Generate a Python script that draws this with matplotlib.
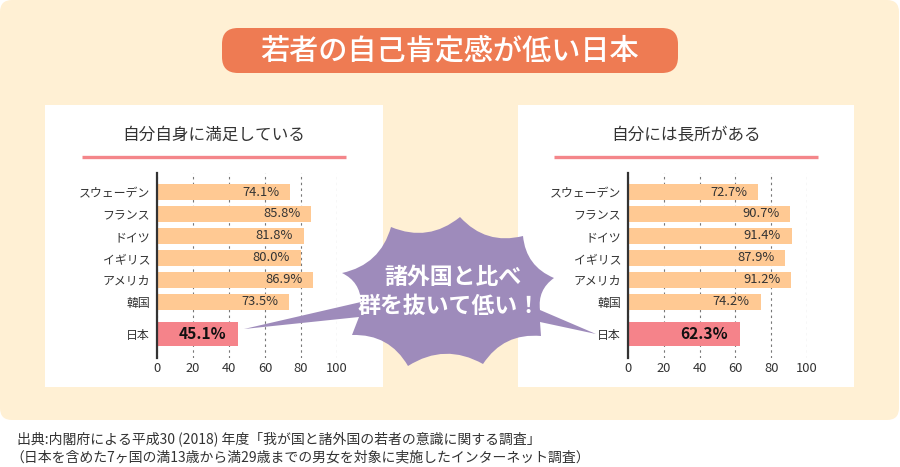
import matplotlib
matplotlib.use("Agg")
import matplotlib.pyplot as plt
from matplotlib.patches import FancyBboxPatch, Rectangle, PathPatch
from matplotlib.path import Path
import numpy as np

plt.rcParams['font.family'] = ['Noto Sans CJK JP', 'DejaVu Sans']

# ---- data ----
countries = ['スウェーデン', 'フランス', 'ドイツ', 'イギリス', 'アメリカ', '韓国', '日本']
satisfied = [74.1, 85.8, 81.8, 80.0, 86.9, 73.5, 45.1]
strengths = [72.7, 90.7, 91.4, 87.9, 91.2, 74.2, 62.3]
xticks = [0, 20, 40, 60, 80, 100]
title_main = '若者の自己肯定感が低い日本'
panel_titles = ['自分自身に満足している', '自分には長所がある']
burst_lines = ['諸外国と比べ', '群を抜いて低い！']
footer = ['出典:内閣府による平成30 (2018) 年度「我が国と諸外国の若者の意識に関する調査」',
          '（日本を含めた7ヶ国の満13歳から満29歳までの男女を対象に実施したインターネット調査）']

# ---- colors ----
CREAM = '#FFF0D4'
ORANGE = '#EE7B53'
BAR = '#FFC993'
JAPAN = '#F5838A'
PINK = '#F4868A'
PURPLE = '#9E8BBB'
TXT = '#333333'

W, H = 900, 467
fig = plt.figure(figsize=(W / 100, H / 100), dpi=100, facecolor='white')

# background axes in pixel coords
bg = fig.add_axes([0, 0, 1, 1], zorder=0)
bg.set_xlim(0, W)
bg.set_ylim(H, 0)
bg.axis('off')
bg.add_patch(FancyBboxPatch((0, 0), 899, 420, boxstyle='round,pad=0,rounding_size=12',
                            fc=CREAM, ec='none'))
bg.add_patch(Rectangle((45, 105), 338, 282, fc='white', ec='none'))
bg.add_patch(Rectangle((518, 105), 336, 282, fc='white', ec='none'))
bg.add_patch(FancyBboxPatch((222, 28), 456, 45, boxstyle='round,pad=0,rounding_size=16',
                            fc=ORANGE, ec='none'))
bg.text(450, 51, title_main, color='white', fontsize=21, fontweight='medium',
        ha='center', va='center')

# panel titles and pink lines
for cx, (x0, x1), t in [(214, (82, 346), panel_titles[0]), (686, (554, 818), panel_titles[1])]:
    bg.text(cx, 135, t, color=TXT, fontsize=12, ha='center', va='center')
    bg.plot([x0, x1], [157, 157], color=PINK, lw=2.4, solid_capstyle='butt')

# footer
bg.text(17, 439, footer[0], color=TXT, fontsize=10, ha='left', va='center')
bg.text(10, 457, footer[1], color=TXT, fontsize=10, ha='left', va='center')

# ---- charts ----
ypos = [0, 1, 2, 3, 4, 5, 6.47]
heights = [0.74] * 6 + [1.1]
colors = [BAR] * 6 + [JAPAN]


def draw_chart(left_px, width_px, values):
    ax = fig.add_axes([left_px / W, 1 - 358 / H, width_px / W, 185 / H], zorder=2)
    ax.set_facecolor('none')
    ax.barh(ypos, values, height=heights, color=colors, zorder=2)
    ax.set_xlim(0, 100)
    ax.set_ylim(7.57, -0.87)
    ax.set_xticks(xticks)
    ax.set_xticklabels([str(t) for t in xticks])
    ax.set_yticks(ypos)
    ax.set_yticklabels(countries)
    ax.tick_params(axis='x', length=0, pad=3, labelsize=9.3, labelcolor=TXT)
    ax.tick_params(axis='y', length=0, pad=5, labelsize=8.6, labelcolor=TXT)
    ax.grid(axis='x', linestyle=(0, (2.2, 3)), color='#777777', lw=0.8, zorder=1)
    for s in ['top', 'right', 'bottom']:
        ax.spines[s].set_visible(False)
    ax.spines['left'].set_color('#333333')
    ax.spines['left'].set_linewidth(1.6)
    ax.spines['left'].set_zorder(3)
    for i, (y, v) in enumerate(zip(ypos, values)):
        if i == len(values) - 1:
            ax.annotate(f'{v:.1f}%', xy=(v, y), xytext=(-8.5, 0), textcoords='offset points',
                        ha='right', va='center', fontsize=11.2, fontweight='bold',
                        color='#111111', zorder=4)
        else:
            ax.annotate(f'{v:.1f}%', xy=(v, y), xytext=(-8, 0), textcoords='offset points',
                        ha='right', va='center', fontsize=9.3, color=TXT, zorder=4)
    return ax


draw_chart(157, 180, satisfied)
draw_chart(628, 179, strengths)

# ---- burst callout (decoration) ----
top = fig.add_axes([0, 0, 1, 1], zorder=10)
top.set_xlim(0, W)
top.set_ylim(H, 0)
top.axis('off')
top.set_facecolor('none')

center = np.array([452.0, 292.0])


def arc_ctrl(p, q, k=0.3):
    p = np.array(p, float)
    q = np.array(q, float)
    m = (p + q) / 2
    d = q - p
    n = np.array([-d[1], d[0]])
    n /= np.linalg.norm(n)
    if np.dot(center - m, n) < 0:
        n = -n
    return m + k * np.linalg.norm(d) * n


seq = [
    ('M', (460, 217)),
    ('A', (523, 236)),
    ('A', (554, 278)),
    ('A', (540, 310)),
    ('L', (596, 334)),
    ('L', (540, 322)),
    ('L', (541, 336)),
    ('A', (483, 364)),
    ('A', (408, 366)),
    ('A', (352, 335)),
    ('L', (359, 317)),
    ('L', (244, 329)),
    ('L', (361, 302)),
    ('A', (342, 273)),
    ('A', (391, 227)),
    ('A', (460, 217)),
]
verts, codes = [], []
prev = None
for kind, pt in seq:
    if kind == 'M':
        verts.append(pt); codes.append(Path.MOVETO)
    elif kind == 'L':
        verts.append(pt); codes.append(Path.LINETO)
    else:
        verts.append(tuple(arc_ctrl(prev, pt))); codes.append(Path.CURVE3)
        verts.append(pt); codes.append(Path.CURVE3)
    prev = pt
verts.append(verts[0]); codes.append(Path.CLOSEPOLY)
top.add_patch(PathPatch(Path(verts, codes), fc=PURPLE, ec='none'))
top.text(453, 277, burst_lines[0], color='white', fontsize=16.5, fontweight='bold',
         ha='center', va='center')
top.text(449, 306, burst_lines[1], color='white', fontsize=16.5, fontweight='bold',
         ha='center', va='center')

fig.savefig('out.png', dpi=100, facecolor='white')
